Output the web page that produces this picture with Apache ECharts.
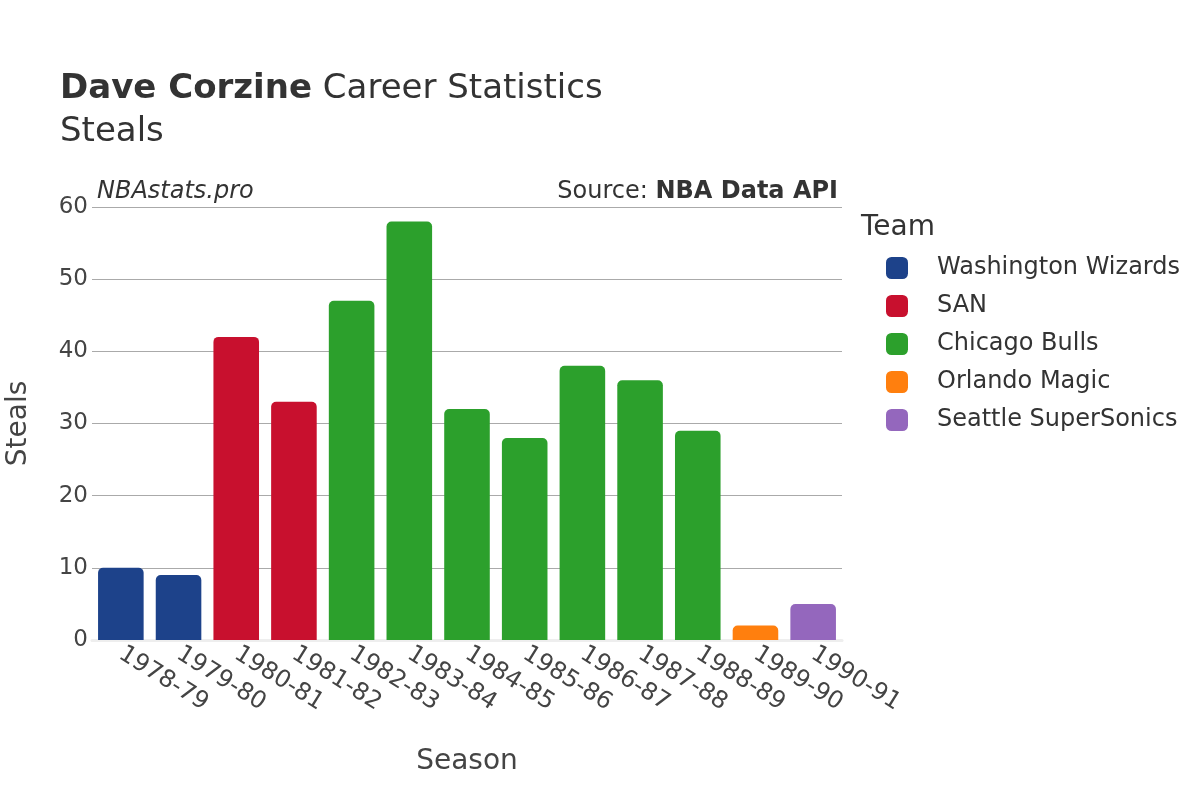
<!DOCTYPE html>
<html>
<head>
<meta charset="utf-8">
<script src="https://cdn.jsdelivr.net/npm/echarts@6/dist/echarts.min.js"></script>
<style>
  html, body { margin: 0; padding: 0; background: #fff; }
  #main { width: 1200px; height: 800px; }
</style>
</head>
<body>
<div id="main"></div>
<script>
var seasons = ['1978-79', '1979-80', '1980-81', '1981-82', '1982-83', '1983-84', '1984-85',
  '1985-86', '1986-87', '1987-88', '1988-89', '1989-90', '1990-91'];
var teams = ['Washington Wizards', 'SAN', 'Chicago Bulls', 'Orlando Magic', 'Seattle SuperSonics'];
var teamColors = ['#1d428a', '#c8102e', '#2ca02c', '#ff7f0e', '#9467bd'];
// team of each season, and steals that season
var seasonTeam = [0, 0, 1, 1, 2, 2, 2, 2, 2, 2, 2, 3, 4];
var steals = [10, 9, 42, 33, 47, 58, 32, 28, 38, 36, 29, 2, 5];
var yTicks = [0, 10, 20, 30, 40, 50, 60];

var font = 'DejaVu Sans';
var chart = echarts.init(document.getElementById('main'));

// one series per team, stacked so every bar stays centred in its category
var series = teams.map(function (name, t) {
  return {
    name: name,
    type: 'bar',
    stack: 'all',
    barCategoryGap: '21%',
    itemStyle: { color: teamColors[t], borderRadius: [5, 5, 0, 0] },
    data: steals.map(function (v, i) { return seasonTeam[i] === t ? v : null; })
  };
});

chart.setOption({
  animation: false,
  textStyle: { fontFamily: font },
  title: [
    {
      left: 60, top: 72, padding: 0,
      text: '{b|Dave Corzine}{n| Career Statistics}',
      textStyle: {
        fontWeight: 'normal',
        rich: {
          b: { fontFamily: font, fontSize: 34, fontWeight: 'bold', color: '#333' },
          n: { fontFamily: font, fontSize: 34, fontWeight: 'normal', color: '#333' }
        }
      }
    },
    {
      left: 60, top: 115, padding: 0,
      text: 'Steals',
      textStyle: { fontFamily: font, fontSize: 34, fontWeight: 'normal', color: '#333' }
    }
  ],
  graphic: [
    { type: 'text', left: 97, top: 180,
      style: { text: 'NBAstats.pro', font: 'italic 24px "DejaVu Sans"', fill: '#333' } },
    { type: 'text', right: 362, top: 180,
      style: { text: '{a|Source: }{b|NBA Data API}', rich: {
        a: { fontFamily: font, fontSize: 24, fill: '#333' },
        b: { fontFamily: font, fontSize: 24, fontWeight: 'bold', fill: '#333' } } } },
    { type: 'text', left: 861, top: 214,
      style: { text: 'Team', font: '28px "DejaVu Sans"', fill: '#333' } }
  ],
  legend: {
    orient: 'vertical',
    left: 881, top: 251,
    icon: 'roundRect',
    itemWidth: 22, itemHeight: 22, itemGap: 14,
    textStyle: { fontFamily: font, fontSize: 24, color: '#333', padding: [0, 0, 0, 24] },
    data: teams
  },
  grid: { left: 92, right: 358, top: 207, bottom: 160, outerBoundsMode: 'none', containLabel: false },
  xAxis: {
    type: 'category',
    data: seasons,
    name: 'Season',
    nameLocation: 'middle',
    nameGap: 108,
    nameTextStyle: { fontFamily: font, fontSize: 28, color: '#444' },
    axisLine: { show: true, lineStyle: { color: '#eee', width: 3 } },
    axisTick: { show: false },
    axisLabel: { interval: 0, rotate: -32, fontFamily: font, fontSize: 24, color: '#444', margin: 12 }
  },
  yAxis: {
    type: 'value',
    min: 0, max: 60, interval: 10,
    name: 'Steals',
    nameLocation: 'middle',
    nameGap: 59,
    nameTextStyle: { fontFamily: font, fontSize: 28, color: '#444' },
    axisLine: { show: false },
    axisTick: { show: false },
    splitLine: { lineStyle: { color: '#aaa', width: 1 } },
    axisLabel: {
      fontFamily: font, fontSize: 23, color: '#444', margin: 4,
      formatter: function (v) { return yTicks.indexOf(v) >= 0 ? String(v) : ''; }
    }
  },
  series: series
});
</script>
</body>
</html>
